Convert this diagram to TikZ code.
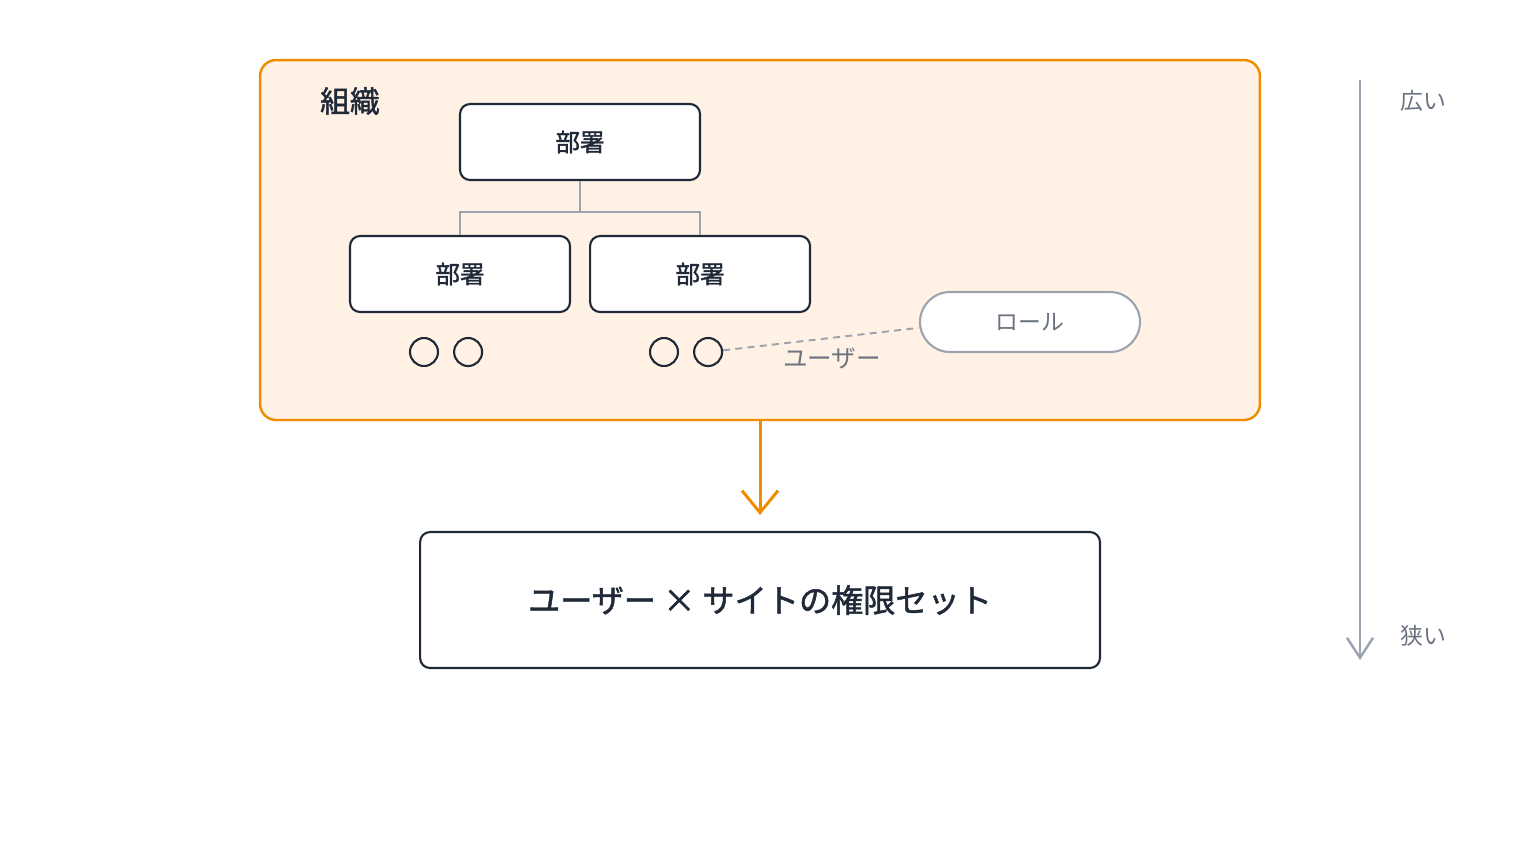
\documentclass[tikz,border=0pt]{standalone}
\usepackage{fontspec}
\setmainfont{Noto Sans CJK JP}
\newfontfamily\jpmedium{Noto Sans CJK JP}[FakeBold=1.5]
\usetikzlibrary{arrows.meta, positioning}
\definecolor{orgorange}{HTML}{F08C00}
\definecolor{orgfill}{HTML}{FFF2E5}
\definecolor{inkdark}{HTML}{1F2937}
\definecolor{linegray}{HTML}{9CA3AF}
\definecolor{textgray}{HTML}{6B7280}

\begin{document}
\begin{tikzpicture}[
			x=0.02cm, y=-0.02cm,
			orgbox/.style={rectangle, rounded corners=0.32cm, draw=orgorange, fill=orgfill, line width=1.4pt, minimum width=20cm, minimum height=7.2cm},
			dept/.style={rectangle, rounded corners=0.2cm, draw=inkdark, fill=white, line width=1.2pt, minimum width=4.4cm, minimum height=1.52cm, text=inkdark, font=\fontsize{14}{16}\jpmedium},
			user/.style={circle, draw=inkdark, line width=1.2pt, minimum size=0.56cm, inner sep=0pt},
			rolebox/.style={rectangle, rounded corners=0.6cm, draw=linegray, fill=white, line width=1.2pt, minimum width=4.4cm, minimum height=1.2cm, text=textgray, font=\fontsize{13}{15}\selectfont},
			tree/.style={linegray, line width=1.1pt},
			link/.style={linegray, dash pattern=on 4pt off 3pt, line width=1.1pt},
			flow/.style={-{Straight Barb[length=4.4mm, width=7.2mm]}, orgorange, line width=1.7pt},
			scopearrow/.style={-{Straight Barb[length=4mm, width=5.2mm]}, linegray, line width=1.4pt},
			side/.style={text=textgray, font=\fontsize{13}{15}\selectfont}
		]
		\useasboundingbox (0,0) rectangle (1520,840);
		
		% Organisation
		\node[orgbox] (org) at (760,240) {};
		\node[text=inkdark, font=\fontsize{17}{20}\jpmedium] (orglabel) at (350,101) {組織};
		
		% Departments
		\node[dept, minimum width=4.8cm] (top) at (580,142) {部署};
		\node[dept] (left) at (460,274) {部署};
		\node[dept, right=0.36cm of left] (right) {部署};
		\coordinate (fork) at (580,212);
		\draw[tree] (top.south) -- (fork);
		\draw[tree] (left.north) |- (fork);
		\draw[tree] (right.north) |- (fork);
		
		% Users
		\node[user] (u1) at (424,352) {};
		\node[user, right=0.28cm of u1] (u2) {};
		\node[user] (u3) at (664,352) {};
		\node[user, right=0.28cm of u3] (u4) {};
		
		% Role
		\node[rolebox] (role) at (1030,322) {ロール};
		\draw[link] (u4) -- node[below=1.2pt, pos=0.52, xshift=4, text=textgray, font=\fontsize{14}{16}\selectfont] (userlabel) {ユーザー} (role.183);
		
		% Result
		\node[dept, minimum width=13.6cm, minimum height=2.72cm, font=\fontsize{18.3}{21}\jpmedium] (result) at (760,600) {ユーザー × サイトの権限セット};
		\draw[flow, shorten >=0.32cm] (org.south) -- (result.north);
		
		% Scope scale
		\coordinate (wide) at (1360,80);
		\coordinate (narrow) at (1360,660);
		\draw[scopearrow] (wide) -- (narrow);
		\node[side] (widelabel) at (1423,101) {広い};
		\node[side] (narrowlabel) at (1423,636) {狭い};
		
		\end{tikzpicture}
\end{document}
